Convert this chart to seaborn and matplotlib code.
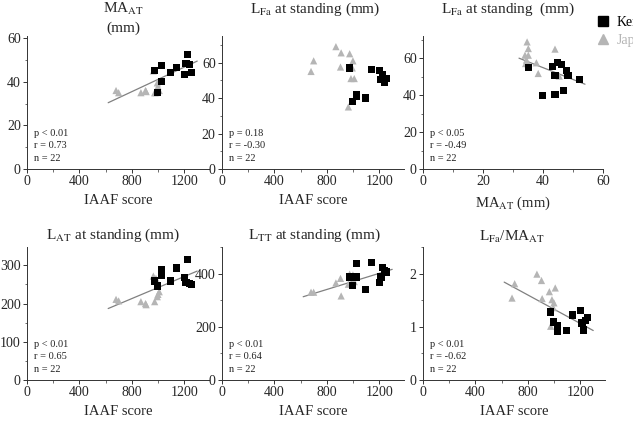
import numpy as np
import pandas as pd
import matplotlib
matplotlib.use("Agg")
import matplotlib.pyplot as plt
from matplotlib.lines import Line2D
from matplotlib.ticker import AutoMinorLocator
import seaborn as sns

# --- data ---
iaaf_ken = [975, 995, 1025, 1030, 1095, 1140, 1200, 1215, 1225, 1240, 1255]
iaaf_jap = [680, 700, 870, 905, 910, 965, 975, 985, 995, 1000, 1010]

ma_at_ken = [45.0, 35.2, 40.1, 47.4, 44.1, 46.7, 43.5, 48.3, 52.6, 47.9, 44.1]
ma_at_jap = [36, 35, 35, 36, 35.5, 45, 35, 35, 39.5, 38, 36]

lfa_ken = [57, 38, 41, 42, 40, 56, 55.5, 50.5, 53, 49, 51]
lfa_jap = [55, 61, 69, 57.5, 65.5, 35, 65, 51, 57, 61, 51]

# L_Fa vs MA_AT panel
ma3_ken = [35.2, 39.8, 43.2, 44.0, 44.0, 44.9, 46.2, 46.8, 47.8, 48.3, 52.1]
lfa3_ken = [55.0, 39.8, 55.7, 50.5, 40.2, 57.7, 56.6, 42.5, 53.5, 50.6, 48.3]
ma3_jap = [34.7, 35.1, 34.0, 35.1, 34.2, 37.8, 38.4, 44.0, 45.4, 35.0, 34.5]
lfa3_jap = [68.8, 65.2, 61.6, 61.6, 57.1, 57.5, 51.7, 64.9, 50.3, 57.0, 59.0]

lat_ken = [259, 246, 290, 275, 259, 293, 268, 255, 316, 252, 250]
lat_jap = [211, 207, 205, 200, 197, 272, 205, 266, 218, 224, 231]

ltt_ken = [387, 356, 439, 387, 341, 443, 366, 387, 423, 410, 406]
ltt_jap = [330, 330, 365, 382, 316, 360, 398, 385, 362, 395, 370]

ratio_ken = [1.28, 1.09, 1.02, 0.92, 0.93, 1.22, 1.30, 1.07, 0.94, 1.12, 1.17]
ratio_jap = [1.54, 1.81, 1.99, 1.87, 1.53, 1.66, 1.01, 1.51, 1.36, 1.45, 1.73]

# regression lines (end points)
trend_iaaf = [620, 1300]
trend_ma = [32, 54]
trend_ma_at = [30.4, 49.5]
trend_lfa_ma = [60.0, 45.9]
trend_lat = [187, 285]
trend_ltt = [313, 416]
trend_ratio = [1.84, 0.93]

p_vals = ["p < 0.01", "p = 0.18", "p < 0.05", "p < 0.01", "p < 0.01", "p < 0.01"]
r_vals = ["r = 0.73", "r = -0.30", "r = -0.49", "r = 0.65", "r = 0.64", "r = -0.62"]
n_val = "n = 22"

sns.set_theme(style="ticks")
plt.rcParams["font.family"] = ["Liberation Serif", "DejaVu Serif"]
plt.rcParams["mathtext.fontset"] = "stix"

KEN_C = "black"
JAP_C = "#b5b5b5"

W, H = 633, 422
fig = plt.figure(figsize=(W / 100, H / 100), dpi=100)


def make_ax(left, bottom, width, height):
    return fig.add_axes([left / W, (H - bottom) / H, width / W, height / H])


axh = 133
axes = [
    make_ax(27, 169, 182, axh), make_ax(222, 169, 182, axh), make_ax(423, 169, 180, axh),
    make_ax(27, 380, 182, axh), make_ax(222, 380, 182, axh), make_ax(423, 380, 182, axh),
]

panels = [
    (iaaf_ken, ma_at_ken, iaaf_jap, ma_at_jap, trend_iaaf, trend_ma_at),
    (iaaf_ken, lfa_ken, iaaf_jap, lfa_jap, None, None),
    (ma3_ken, lfa3_ken, ma3_jap, lfa3_jap, trend_ma, trend_lfa_ma),
    (iaaf_ken, lat_ken, iaaf_jap, lat_jap, trend_iaaf, trend_lat),
    (iaaf_ken, ltt_ken, iaaf_jap, ltt_jap, trend_iaaf, trend_ltt),
    (iaaf_ken, ratio_ken, iaaf_jap, ratio_jap, trend_iaaf, trend_ratio),
]

ylims = [(0, 61), (0, 75), (0, 72), (0, 348), (0, 500), (0, 2.5)]
yticks = [[0, 20, 40, 60], [0, 20, 40, 60], [0, 20, 40, 60],
          [0, 100, 200, 300], [0, 200, 400], [0, 1, 2]]

for i, ax in enumerate(axes):
    xk, yk, xj, yj, tx, ty = panels[i]
    df = pd.DataFrame({"x": xj + xk, "y": yj + yk,
                       "group": ["JAP"] * len(xj) + ["KEN"] * len(xk)})
    sns.scatterplot(data=df, x="x", y="y", hue="group", style="group",
                    markers={"JAP": "^", "KEN": "s"},
                    palette={"JAP": JAP_C, "KEN": KEN_C},
                    s=27, edgecolor="none", legend=False, ax=ax, zorder=3)
    if tx is not None:
        ax.plot(tx, ty, color="#808080", lw=0.9, zorder=2)

    if i == 2:
        ax.set_xlim(0, 60)
        ax.set_xticks([0, 20, 40, 60])
    else:
        ax.set_xlim(0, 1390)
        ax.set_xticks([0, 400, 800, 1200])
    ax.set_ylim(*ylims[i])
    ax.set_yticks(yticks[i])
    ax.xaxis.set_minor_locator(AutoMinorLocator(2))
    ax.yaxis.set_minor_locator(AutoMinorLocator(2))
    ax.tick_params(which="major", direction="out", length=3, width=0.7,
                   labelsize=10, pad=1.5, color="#333333")
    ax.tick_params(which="minor", direction="out", length=1.8, width=0.6, color="#555555")
    for s in ["top", "right"]:
        ax.spines[s].set_visible(False)
    for s in ["left", "bottom"]:
        ax.spines[s].set_linewidth(0.7)
        ax.spines[s].set_color("#333333")

    ax.set_ylabel("")
    xlabel = "MA$_{\\mathrm{AT}}$ (mm)" if i == 2 else "IAAF score"
    ax.set_xlabel(xlabel, fontsize=10.5)
    ax.xaxis.set_label_coords(0.5, -0.19)

    ax.text(0.04, 0.27, p_vals[i], transform=ax.transAxes, fontsize=7.5,
            va="center", color="#222222")
    ax.text(0.04, 0.175, r_vals[i], transform=ax.transAxes, fontsize=7.5,
            va="center", color="#222222")
    ax.text(0.04, 0.08, n_val, transform=ax.transAxes, fontsize=7.5,
            va="center", color="#222222")

# titles
axes[0].text(0.53, 1.205, "MA$_{\\mathrm{AT}}$", transform=axes[0].transAxes,
             ha="center", va="center", fontsize=11)
axes[0].text(0.53, 1.06, "(mm)", transform=axes[0].transAxes,
             ha="center", va="center", fontsize=11)
axes[1].text(0.51, 1.2, "L$_{\\mathrm{Fa}}$ at standing (mm)", transform=axes[1].transAxes,
             ha="center", va="center", fontsize=11)
axes[2].text(0.47, 1.2, "L$_{\\mathrm{Fa}}$ at standing  (mm)", transform=axes[2].transAxes,
             ha="center", va="center", fontsize=11)
axes[3].text(0.47, 1.09, "L$_{\\mathrm{AT}}$ at standing (mm)", transform=axes[3].transAxes,
             ha="center", va="center", fontsize=11)
axes[4].text(0.51, 1.09, "L$_{\\mathrm{TT}}$ at standing (mm)", transform=axes[4].transAxes,
             ha="center", va="center", fontsize=11)
axes[5].text(0.49, 1.075, "L$_{\\mathrm{Fa}}$/MA$_{\\mathrm{AT}}$", transform=axes[5].transAxes,
             ha="center", va="center", fontsize=11)

# legend (runs off the right edge like the original)
handles = [Line2D([], [], marker="s", color=KEN_C, ls="none", markersize=6.5),
           Line2D([], [], marker="^", color=JAP_C, ls="none", markersize=7.5)]
fig.legend(handles, ["Kenyan", "Japanese"], loc="upper left",
           bbox_to_anchor=(596 / W, 1 - 16 / H), frameon=False, fontsize=10,
           handlelength=1.0, handletextpad=0.5, borderpad=0, borderaxespad=0,
           labelspacing=0.35, labelcolor=[KEN_C, JAP_C])

fig.savefig("out.png", dpi=100)
